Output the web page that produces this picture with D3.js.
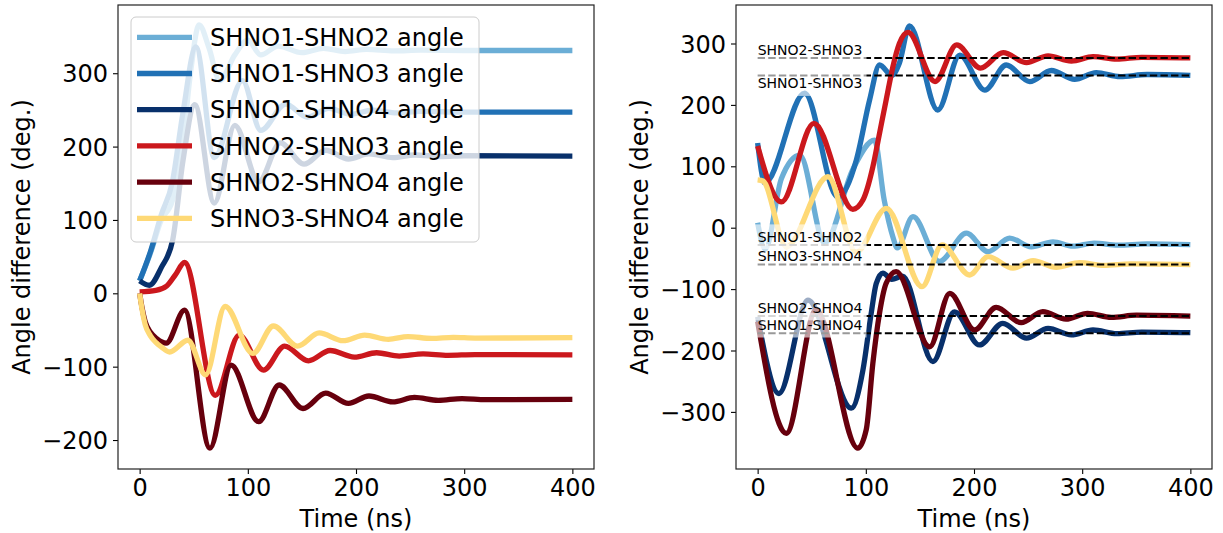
<!DOCTYPE html>
<html>
<head>
<meta charset="utf-8">
<script src="https://cdn.jsdelivr.net/npm/d3@7"></script>
<style>
  body { margin: 0; background: #fff; }
  svg { display: block; }
  text { font-family: "DejaVu Sans", sans-serif; }
</style>
</head>
<body>
<svg id="chart" width="1223" height="533"></svg>
<script>
// Oscillator pairs, in drawing / legend order
const pairNames = ["SHNO1-SHNO2", "SHNO1-SHNO3", "SHNO1-SHNO4", "SHNO2-SHNO3", "SHNO2-SHNO4", "SHNO3-SHNO4"];
const pairColors = ["#6baed6", "#2171b5", "#08306b", "#cb181d", "#67000d", "#fed976"];

const xTicks = [0, 100, 200, 300, 400];
const leftYTicks = [-200, -100, 0, 100, 200, 300];
const rightYTicks = [-300, -200, -100, 0, 100, 200, 300];

// Unwrapped phase differences, [time (ns), angle (deg)]
const unwrapped12 = [[0,17],[10,55],[20,100],[30,125],[40,205],[47,300],[55,366],[64,335],[74,290],[88,325],[100,345],[112,325],[128,337],[150,328],[170,334],[190,329.5],[210,332.5],[235,330.5],[260,331.5],[300,331],[400,331]];
const unwrapped13 = [[0,17],[10,57],[20,107],[30,150],[40,246],[52,336],[69,185],[95,290],[112,222],[135,258],[155,240],[175,252],[195,244],[215,249.5],[238,246],[260,248],[300,247],[400,247]];
const unwrapped14 = [[0,17],[9,11],[20,35],[30.6,73],[40,180],[51,257],[69,123],[88,229],[110,152],[130,205],[152,176],[172,195],[193,183],[212,190],[234,185],[254,188.5],[280,186.5],[300,187.5],[400,187]];
const unwrapped23 = [[0,2],[15,4],[25,10],[33,25],[41.5,42],[70,-139],[92,-57],[114.5,-104.6],[134,-72],[156,-92],[176,-78],[198.5,-87],[219,-81],[240,-85.5],[262,-82.5],[285,-84.5],[310,-83.5],[400,-84]];
const unwrapped24 = [[0,0],[2,-18],[5,-38],[10,-53],[16,-62],[24.6,-68],[41.5,-23],[65,-211],[84.6,-98],[110,-175],[129,-125],[151,-157],[172,-136],[193,-150],[212,-140],[234,-148],[254,-142],[276,-146],[298,-143.5],[320,-145],[400,-144.5]];
const unwrapped34 = [[0,0],[2,-20],[5,-42],[10,-58],[15,-67],[20,-73],[27.7,-80],[44.6,-64],[61,-111],[79,-18],[104.6,-82],[123.7,-44.6],[146,-72],[166,-54],[188,-64.6],[208,-57],[230,-62.7],[248,-59],[270,-61.5],[290,-60],[310,-61],[400,-60.5]];

// Phase differences wrapped into (-360, 360), [time (ns), angle (deg)]
const wrapped12 = [[0,8],[7,-35],[22,80],[39,118],[62,-25],[88,95],[108,142.6],[117,45],[125,-15],[129,-33],[143.6,18],[168,-55],[193,-9],[213,-39],[233,-17],[253,-31],[273,-23],[291.5,-30],[311,-25],[333,-28.5],[360,-26.5],[400,-27.5]];
const wrapped13 = [[0,138],[6.7,73],[43.4,219],[74,50],[91.2,110],[103.5,208],[112.7,265],[124,248],[131,268],[140.4,328.5],[166.5,191.7],[186.9,281],[210,224],[229.8,265],[251.5,238],[271.5,256],[293,241.7],[313,252.4],[335,246],[360,249.5],[400,248]];
const wrapped14 = [[0,-145],[19.7,-270],[46.5,-118],[86.6,-294],[97.3,-232],[105,-139],[109.6,-91],[115.8,-74],[124,-84],[134,-79],[162,-218],[182,-137],[205,-191],[226.6,-155.7],[248.5,-180],[268.5,-164],[290,-174.7],[310,-166.6],[332,-172.5],[355,-170],[400,-171]];
const wrapped23 = [[0,133],[22,42],[52,170],[88,30],[97.3,45],[106.5,99],[112.7,154],[118.8,208],[125,262],[131,300],[139,318],[164,238],[184,297.6],[206,260],[227,285],[248.5,269],[268.5,280],[290,271.5],[310,278.5],[332,274.5],[355,277.5],[400,276.5]];
const wrapped24 = [[0,-153],[26.5,-335],[54,-134],[92.6,-359],[100.4,-329],[106.5,-221],[112.7,-139],[118.8,-90.6],[128,-71.7],[159,-194],[177.6,-107],[200.5,-166.6],[220.5,-129.7],[243.6,-154.7],[263.6,-136.8],[285,-149],[305,-139.5],[327,-146],[350,-142.5],[400,-144]];
const wrapped34 = [[0,78],[5,76],[26.5,-31],[65,83],[91,-40],[119,31.6],[152,-96],[170.5,-28],[196,-77],[213,-47],[236,-66],[254.6,-53.7],[276,-64.5],[297.7,-57],[320,-61.5],[345,-59],[400,-60]];

// Phase-locked values (wrapped) marked on the right panel
const lockedAngles = [-28, 248, -172, 276.5, -144, -60];
const lockedLabelAbove = [true, false, true, true, true, true];

const svg = d3.select("#chart");
const FONT = "\"DejaVu Sans\", sans-serif";
const plotTop = 5, plotBottom = 469;
const LINE_W = 5.3;

function drawPanel(cfg) {
  const x = d3.scaleLinear().domain([-20, 420]).range([cfg.left, cfg.right]);
  const y = d3.scaleLinear().domain(cfg.yDomain).range([plotBottom, plotTop]);
  const g = svg.append("g");

  g.append("clipPath").attr("id", cfg.id + "-clip")
    .append("rect")
    .attr("x", cfg.left).attr("y", plotTop)
    .attr("width", cfg.right - cfg.left).attr("height", plotBottom - plotTop);

  const line = d3.line()
    .x(d => x(d[0])).y(d => y(d[1]))
    .curve(d3.curveMonotoneX);

  const plot = g.append("g").attr("clip-path", `url(#${cfg.id}-clip)`);
  cfg.series.forEach((s, i) => {
    plot.append("path").datum(s)
      .attr("d", line)
      .attr("fill", "none")
      .attr("stroke", pairColors[i])
      .attr("stroke-width", LINE_W)
      .attr("stroke-linejoin", "round");
  });

  // axes
  const xAxis = d3.axisBottom(x).tickValues(xTicks).tickSize(5).tickSizeOuter(0).tickPadding(5);
  const gx = g.append("g").attr("transform", `translate(0,${plotBottom})`).call(xAxis);
  const yAxis = d3.axisLeft(y).tickValues(cfg.yTicks).tickSize(5).tickSizeOuter(0).tickPadding(5);
  const gy = g.append("g").attr("transform", `translate(${cfg.left},0)`).call(yAxis);
  [gx, gy].forEach(a => {
    a.select(".domain").remove();
    a.selectAll(".tick line").attr("stroke", "#000").attr("stroke-width", 1.1);
    a.selectAll(".tick text").attr("fill", "#000")
      .style("font-family", FONT).style("font-size", "24px");
  });
  gy.selectAll(".tick text").attr("dy", "0.36em");

  // frame
  g.append("rect")
    .attr("x", cfg.left).attr("y", plotTop)
    .attr("width", cfg.right - cfg.left).attr("height", plotBottom - plotTop)
    .attr("fill", "none").attr("stroke", "#222").attr("stroke-width", 1.2);

  // axis titles
  g.append("text")
    .attr("x", (cfg.left + cfg.right) / 2).attr("y", 527)
    .attr("text-anchor", "middle")
    .style("font-size", "24px")
    .text("Time (ns)");
  g.append("text")
    .attr("transform", `translate(${cfg.yLabelX},${(plotTop + plotBottom) / 2}) rotate(-90)`)
    .attr("text-anchor", "middle")
    .style("font-size", "24px")
    .text("Angle difference (deg.)");

  return { g, x, y };
}

// Left panel: unwrapped differences
const left = drawPanel({
  id: "left", left: 118, right: 594,
  yDomain: [-239.5, 393], yTicks: leftYTicks, yLabelX: 30,
  series: [unwrapped12, unwrapped13, unwrapped14, unwrapped23, unwrapped24, unwrapped34]
});

// legend
const legend = left.g.append("g");
legend.append("rect")
  .attr("x", 131).attr("y", 17).attr("width", 348).attr("height", 225)
  .attr("rx", 5).attr("ry", 5)
  .attr("fill", "#fff").attr("fill-opacity", 0.8)
  .attr("stroke", "#cccccc").attr("stroke-width", 1);
pairNames.forEach((name, i) => {
  const cy = 37.3 + i * 36.2;
  legend.append("line")
    .attr("x1", 137).attr("x2", 192).attr("y1", cy).attr("y2", cy)
    .attr("stroke", pairColors[i]).attr("stroke-width", LINE_W);
  legend.append("text")
    .attr("x", 210).attr("y", cy).attr("dy", "0.36em")
    .style("font-size", "24px")
    .text(name + " angle");
});

// Right panel: wrapped differences with locked values
const right = drawPanel({
  id: "right", left: 736, right: 1212,
  yDomain: [-393, 362.7], yTicks: rightYTicks, yLabelX: 648,
  series: [wrapped12, wrapped13, wrapped14, wrapped23, wrapped24, wrapped34]
});

const marks = right.g.append("g").attr("clip-path", "url(#right-clip)");
lockedAngles.forEach(v => {
  marks.append("line")
    .attr("x1", right.x(0)).attr("x2", right.x(400))
    .attr("y1", right.y(v)).attr("y2", right.y(v))
    .attr("stroke", "#000").attr("stroke-width", 2)
    .attr("stroke-dasharray", "7.4,3.2");
});
const pad = 4.2, asc = 13.0, desc = 3.3;
lockedAngles.forEach((v, i) => {
  const yl = right.y(v), x0 = right.x(0);
  const lbl = marks.append("g");
  const box = lbl.append("rect").attr("fill", "#fff").attr("fill-opacity", 0.6);
  const t = lbl.append("text")
    .attr("x", x0)
    .attr("y", lockedLabelAbove[i] ? yl - desc : yl + asc)
    .style("font-size", "14px")
    .text(pairNames[i]);
  const w = t.node().getComputedTextLength();
  const top = lockedLabelAbove[i] ? yl - asc - desc - pad : yl - pad;
  box.attr("x", x0 - pad).attr("width", w + 2 * pad)
    .attr("y", top).attr("height", asc + desc + 2 * pad);
});
</script>
</body>
</html>
